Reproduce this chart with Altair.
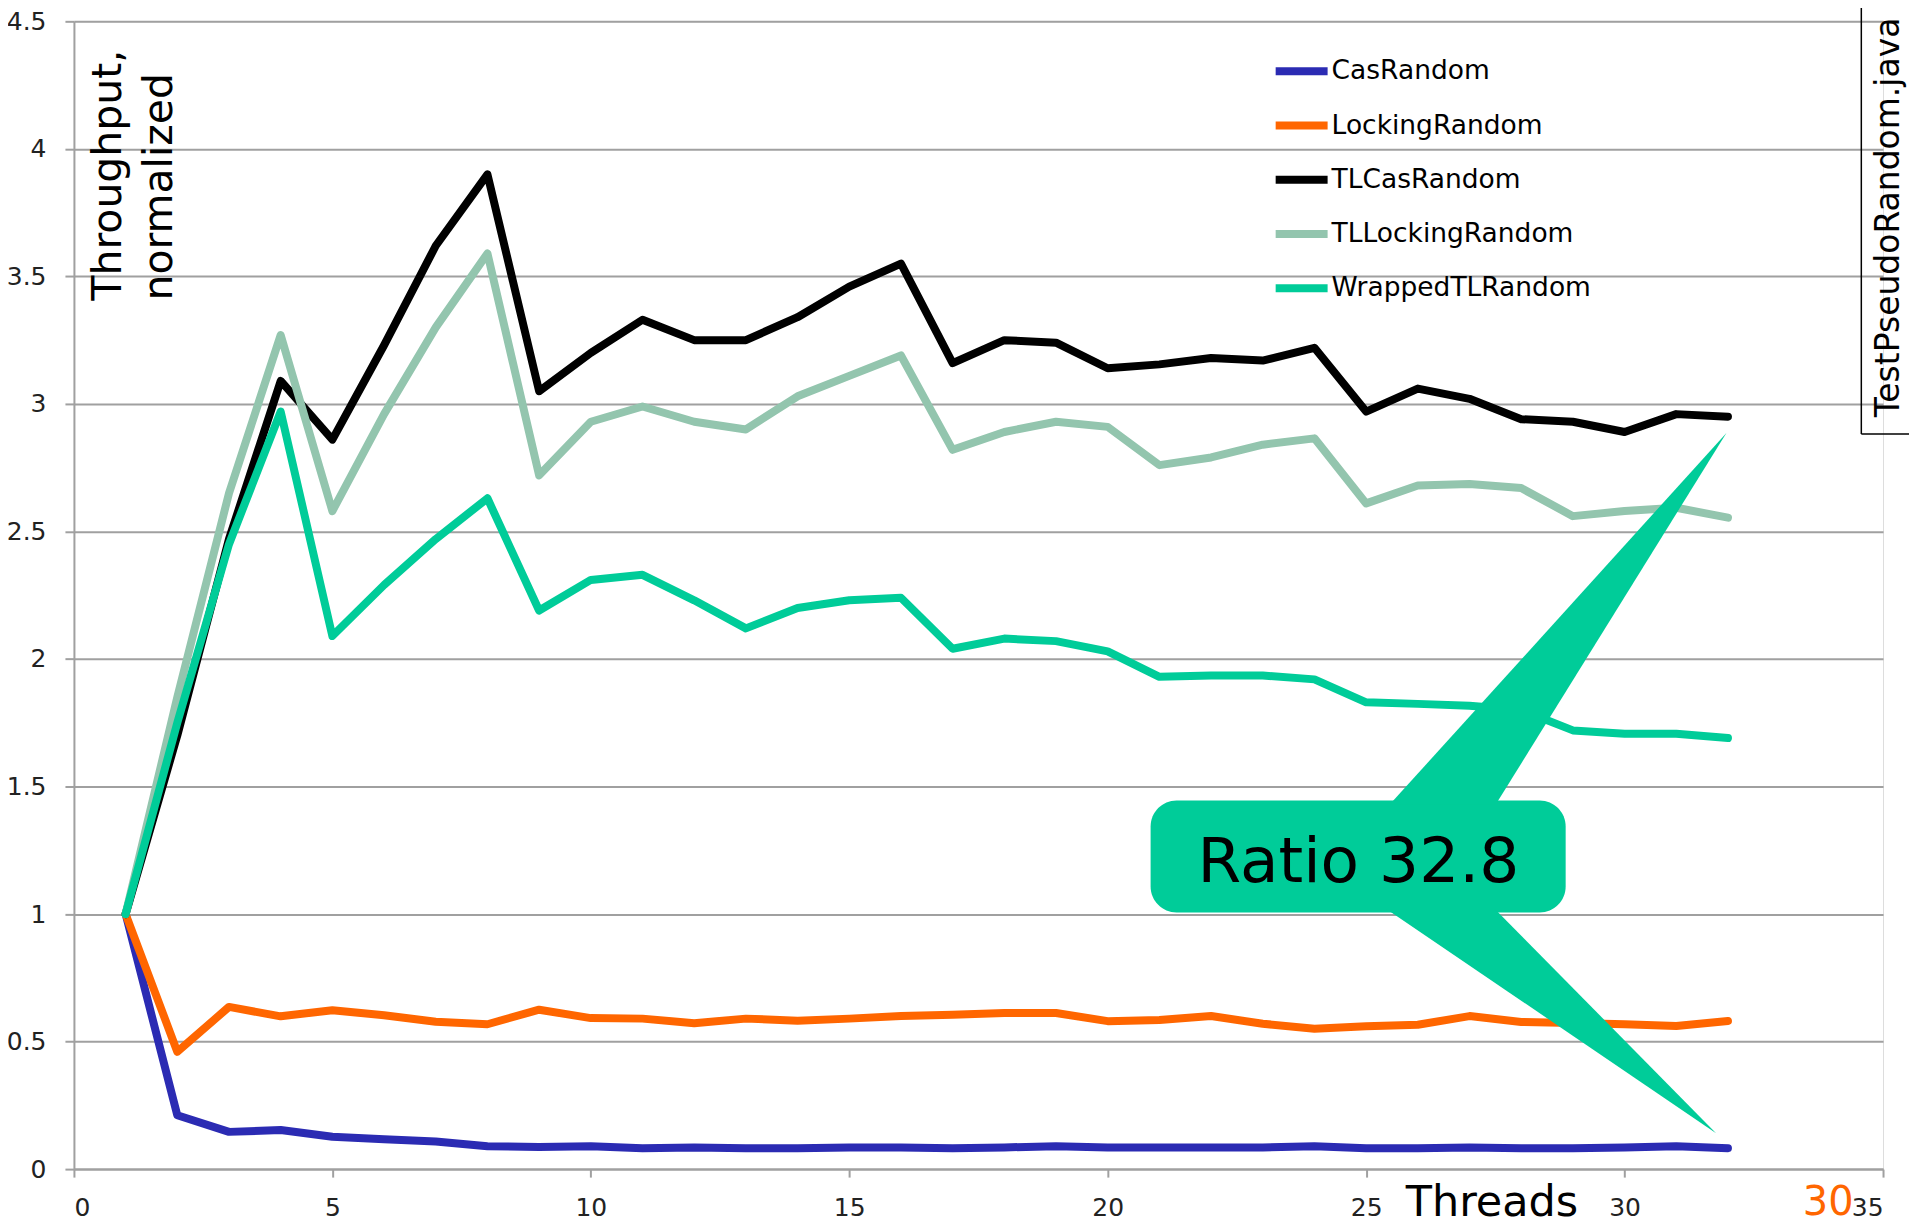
import altair as alt
import pandas as pd

# ---- data ----
threads = list(range(1, 33))

series_names = ["CasRandom", "LockingRandom", "TLCasRandom", "TLLockingRandom", "WrappedTLRandom"]
series_colors = ["#2b2bb3", "#ff6600", "#000000", "#93c5ae", "#00cc99"]

cas = [1.0, 0.211, 0.146, 0.153, 0.127, 0.117, 0.108, 0.090, 0.087, 0.090, 0.082, 0.085,
       0.082, 0.082, 0.085, 0.085, 0.082, 0.085, 0.090, 0.085, 0.085, 0.085, 0.085, 0.090,
       0.082, 0.082, 0.085, 0.082, 0.082, 0.085, 0.090, 0.082]
locking = [1.0, 0.46, 0.636, 0.599, 0.623, 0.603, 0.578, 0.568, 0.625, 0.592, 0.590, 0.572,
           0.590, 0.582, 0.590, 0.600, 0.605, 0.612, 0.612, 0.580, 0.585, 0.600, 0.570, 0.550,
           0.560, 0.566, 0.600, 0.577, 0.573, 0.568, 0.561, 0.581]
tlcas = [1.0, 1.70, 2.47, 3.09, 2.86, 3.23, 3.62, 3.90, 3.05, 3.20, 3.33, 3.25,
         3.25, 3.34, 3.46, 3.55, 3.16, 3.25, 3.24, 3.14, 3.155, 3.18, 3.17, 3.22,
         2.97, 3.06, 3.02, 2.94, 2.93, 2.89, 2.96, 2.95]
tllocking = [1.0, 1.85, 2.65, 3.27, 2.58, 2.96, 3.30, 3.59, 2.72, 2.93, 2.99, 2.93,
             2.90, 3.03, 3.11, 3.19, 2.82, 2.89, 2.93, 2.91, 2.76, 2.79, 2.84, 2.865,
             2.61, 2.68, 2.686, 2.67, 2.56, 2.58, 2.593, 2.554]
wrapped = [1.0, 1.75, 2.45, 2.97, 2.09, 2.29, 2.47, 2.63, 2.19, 2.31, 2.33, 2.23,
           2.12, 2.20, 2.23, 2.24, 2.04, 2.08, 2.07, 2.03, 1.93, 1.935, 1.935, 1.92,
           1.83, 1.824, 1.817, 1.80, 1.72, 1.707, 1.707, 1.69]

x_ticks = [0, 5, 10, 15, 20, 25, 30, 35]
y_ticks = [0, 0.5, 1, 1.5, 2, 2.5, 3, 3.5, 4, 4.5]

# callout (in data units)
callout_text = "Ratio 32.8"
bubble_x = [20.83, 28.86]
bubble_y = [1.006, 1.445]
wedge_id = ["up", "up", "up", "down", "down", "down"]
wedge_x = [25.46, 31.97, 27.51, 25.39, 31.77, 27.49]
wedge_y = [1.43, 2.886, 1.43, 1.02, 0.141, 1.02]
callout_color = "#00cc99"

file_label = "TestPseudoRandom.java"
extra_label = "30"

FONT = "DejaVu Sans"
GRID = "#a0a0a0"

rows = []
for name, vals in zip(series_names, [cas, locking, tlcas, tllocking, wrapped]):
    for t, v in zip(threads, vals):
        rows.append({"Threads": t, "Throughput": v, "Series": name})
df = pd.DataFrame(rows)

x_scale = alt.Scale(domain=[0, 35], nice=False, zero=False)
y_scale = alt.Scale(domain=[0, 4.5], nice=False)

lines = alt.Chart(df).mark_line(strokeWidth=8, strokeCap="round", strokeJoin="round").encode(
    x=alt.X("Threads:Q", scale=x_scale,
            axis=alt.Axis(values=x_ticks, grid=False, format="~g", title="Threads",
                          titleX=1419, titleY=46, titleAlign="center", titleBaseline="alphabetic",
                          titleFontSize=43, titleFontWeight="normal", titleColor="black", titleFont=FONT,
                          labelFontSize=25, labelColor="#222222", labelFont=FONT,
                          labelBaseline="alphabetic", labelPadding=38,
                          tickSize=8, tickWidth=2, tickColor=GRID,
                          domainColor=GRID, domainWidth=2)),
    y=alt.Y("Throughput:Q", scale=y_scale,
            axis=alt.Axis(values=y_ticks, grid=True, gridColor=GRID, gridWidth=2, format="~g",
                          title=["Throughput,", "normalized"],
                          titleX=47, titleY=279, titleAngle=270, titleAlign="left",
                          titleBaseline="alphabetic", titleFontSize=41, titleLineHeight=51,
                          titleFontWeight="normal", titleColor="black", titleFont=FONT,
                          labelFontSize=25, labelColor="#222222", labelFont=FONT, labelPadding=19,
                          tickSize=9, tickWidth=2, tickColor=GRID,
                          domainColor=GRID, domainWidth=2)),
    color=alt.Color("Series:N", sort=series_names,
                    scale=alt.Scale(domain=series_names, range=series_colors),
                    legend=alt.Legend(title=None, orient="none", legendX=1199, legendY=20,
                                      symbolType="stroke", symbolSize=2704, symbolStrokeWidth=8,
                                      labelFontSize=26.5, labelFont=FONT, labelColor="black",
                                      labelOffset=0, labelLimit=0, rowPadding=8.3)),
)

bubble_df = pd.DataFrame({"Threads": [bubble_x[0]], "Threads2": [bubble_x[1]],
                          "Throughput": [bubble_y[0]], "Throughput2": [bubble_y[1]]})
bubble = alt.Chart(bubble_df).mark_rect(color=callout_color, cornerRadius=26).encode(
    x="Threads:Q", x2="Threads2:Q", y="Throughput:Q", y2="Throughput2:Q")

wedge_df = pd.DataFrame({"Threads": wedge_x, "Throughput": wedge_y, "wedge": wedge_id,
                         "k": [0, 1, 2, 0, 1, 2]})
wedges = alt.Chart(wedge_df).mark_line(fill=callout_color, strokeWidth=0, interpolate="linear-closed").encode(
    x="Threads:Q", y="Throughput:Q", detail="wedge:N", order="k:Q")

ratio_df = pd.DataFrame({"Threads": [24.85], "Throughput": [1.124], "label": [callout_text]})
ratio = alt.Chart(ratio_df).mark_text(font=FONT, fontSize=63, color="black", align="center",
                                      baseline="alphabetic").encode(
    x="Threads:Q", y="Throughput:Q", text="label:N")

box_v_df = pd.DataFrame({"Threads": [34.58], "Throughput": [2.882], "Throughput2": [4.7]})
box_v = alt.Chart(box_v_df).mark_rule(color="black", strokeWidth=1.5).encode(
    x="Threads:Q", y="Throughput:Q", y2="Throughput2:Q")
box_h_df = pd.DataFrame({"Threads": [34.58], "Threads2": [36.5], "Throughput": [2.882]})
box_h = alt.Chart(box_h_df).mark_rule(color="black", strokeWidth=1.5).encode(
    x="Threads:Q", x2="Threads2:Q", y="Throughput:Q")

file_df = pd.DataFrame({"Threads": [35.30], "Throughput": [2.948], "label": [file_label]})
file_text = alt.Chart(file_df).mark_text(font=FONT, fontSize=33, color="black", angle=270,
                                         align="left", baseline="alphabetic").encode(
    x="Threads:Q", y="Throughput:Q", text="label:N")

extra_df = pd.DataFrame({"Threads": [33.94], "Throughput": [-0.18], "label": [extra_label]})
extra_text = alt.Chart(extra_df).mark_text(font=FONT, fontSize=40, color="#ff6600", align="center",
                                           baseline="alphabetic").encode(
    x="Threads:Q", y="Throughput:Q", text="label:N")

chart = alt.layer(lines, bubble, wedges, ratio, box_v, box_h, file_text, extra_text).properties(
    width=1811, height=1149,
    autosize=alt.AutoSizeParams(type="none"),
    padding={"left": 66, "top": 12.7, "right": 26, "bottom": 56},
).configure_view(stroke=None).configure(font=FONT)

chart.save("out.html", embed_options={"renderer": "svg", "actions": False})
